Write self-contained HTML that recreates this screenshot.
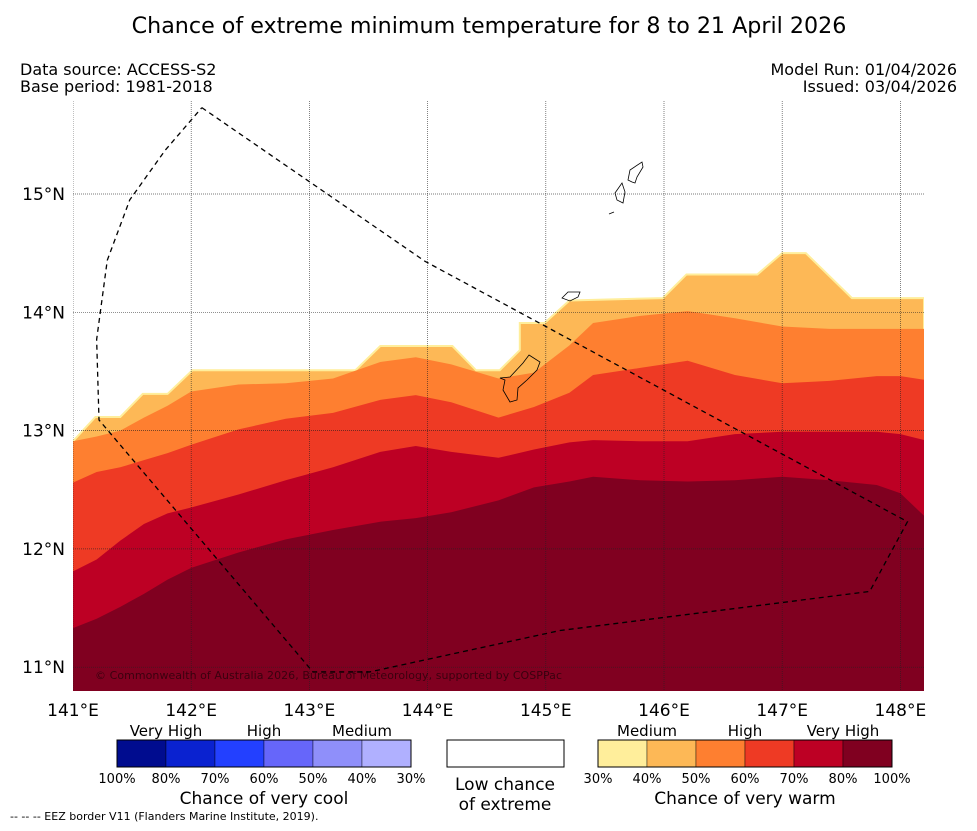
<!DOCTYPE html>
<html><head><meta charset="utf-8"><style>
html,body{margin:0;padding:0;background:#fff;}
body{width:977px;height:827px;overflow:hidden;font-family:"DejaVu Sans","Liberation Sans",sans-serif;}
svg text{font-family:"DejaVu Sans","Liberation Sans",sans-serif;}
</style></head><body>
<svg id="chart" width="977" height="827" viewBox="0 0 977 827" xmlns="http://www.w3.org/2000/svg">
<text x="489" y="33" font-size="22.2" text-anchor="middle" fill="#000">Chance of extreme minimum temperature for 8 to 21 April 2026</text>
<text x="20" y="75" font-size="16">Data source: ACCESS-S2</text>
<text x="20" y="92" font-size="16">Base period: 1981-2018</text>
<text x="957" y="75" font-size="16" text-anchor="end">Model Run: 01/04/2026</text>
<text x="957" y="92" font-size="16" text-anchor="end">Issued: 03/04/2026</text>
<defs><clipPath id="mapclip"><rect x="73" y="101" width="851" height="590"/></clipPath></defs>
<g id="map" clip-path="url(#mapclip)"></g>
<g id="axes"></g>
<g id="legend"></g>
<text x="10" y="820" font-size="11">--  --  -- EEZ border V11 (Flanders Marine Institute, 2019).</text>
</svg>
<script>
// ---- data ----
const gridLons=[141.0,141.2,141.4,141.6,141.8,142.0,142.4,142.8,143.2,143.6,143.9,144.2,144.6,144.9,145.2,145.4,145.8,146.2,146.6,147.0,147.4,147.8,148.0,148.2];
const topLons=[141.0,141.19,141.40,141.59,141.80,142.01,143.39,143.60,144.21,144.41,144.61,144.78,144.78,144.99,145.20,145.99,146.19,146.79,147.00,147.20,147.59,148.2];
const topLats=[12.91,13.115,13.115,13.31,13.31,13.51,13.51,13.715,13.715,13.51,13.51,13.68,13.91,13.91,14.10,14.12,14.32,14.32,14.50,14.50,14.12,14.12];
const lat50=[12.91,12.95,13.00,13.11,13.21,13.33,13.39,13.40,13.44,13.58,13.62,13.56,13.44,13.49,13.72,13.91,13.97,14.01,13.95,13.88,13.86,13.86,13.86,13.86];
const lat60=[12.56,12.65,12.69,12.75,12.81,12.88,13.01,13.10,13.15,13.26,13.30,13.24,13.11,13.20,13.32,13.47,13.53,13.59,13.47,13.40,13.42,13.46,13.46,13.43];
const lat70=[11.81,11.91,12.07,12.21,12.30,12.35,12.46,12.58,12.69,12.82,12.87,12.82,12.77,12.84,12.90,12.92,12.91,12.91,12.97,12.99,12.99,12.99,12.97,12.92];
const lat80=[11.33,11.41,11.51,11.62,11.74,11.84,11.97,12.08,12.16,12.23,12.26,12.31,12.41,12.52,12.57,12.61,12.58,12.57,12.58,12.61,12.58,12.54,12.47,12.28];
const eezLons=[142.09,143.98,148.06,147.74,145.12,143.51,143.03,141.22,141.20,141.29,141.48,141.78,142.09];
const eezLats=[15.73,14.43,12.23,11.64,11.31,10.96,10.96,13.09,13.77,14.44,14.95,15.37,15.73];
const lonTicks=[141,142,143,144,145,146,147,148];
const latTicks=[11,12,13,14,15];
const coolLabels=["100%","80%","70%","60%","50%","40%","30%"];
const warmLabels=["30%","40%","50%","60%","70%","80%","100%"];
const coolColors=["#000c8f","#0a22d0","#2340ff","#6666fa","#8f8ffa","#b0b0ff"];
const warmColors=["#ffee9b","#fdb856","#fe7f30","#ee3a24","#bd0024","#800020"];

const NS='http://www.w3.org/2000/svg';
const x=lon=>73+(lon-141)*118.2;
const y=lat=>194+(15-lat)*118.3;
const BOT=10.5;
function mk(tag,attrs,parent){const e=document.createElementNS(NS,tag);for(const k in attrs)e.setAttribute(k,attrs[k]);parent.appendChild(e);return e;}
const map=document.getElementById('map');
function band(lons,lats,color,name,stroke){
  let d='M'+x(lons[0])+','+y(BOT);
  for(let i=0;i<lons.length;i++)d+='L'+x(lons[i])+','+y(lats[i]);
  d+='L'+x(lons[lons.length-1])+','+y(BOT)+'Z';
  const p=mk('path',{d:d,fill:color},map);
  if(stroke){p.setAttribute('stroke',stroke);p.setAttribute('stroke-width','2');}
  
  
}
band(topLons,topLats,warmColors[1],'band-40-50',warmColors[0]);
band(gridLons,lat50,warmColors[2],'band-50-60');
band(gridLons,lat60,warmColors[3],'band-60-70');
band(gridLons,lat70,warmColors[4],'band-70-80');
band(gridLons,lat80,warmColors[5],'band-80-100');
// grid
lonTicks.forEach(l=>{const g=mk('line',{x1:x(l),x2:x(l),y1:101,y2:691,stroke:'#222','stroke-width':0.7,'stroke-dasharray':'1,1','stroke-opacity':0.8},map);
});
latTicks.forEach(l=>{const g=mk('line',{x1:73,x2:924,y1:y(l),y2:y(l),stroke:'#222','stroke-width':0.7,'stroke-dasharray':'1,1','stroke-opacity':0.8},map);
});
// islands
const islands=["M529,355L540,362L537,370L527,380L518,388L517,400L510,402L503,390L505,380L500,378L510,377L523,363Z",
"M562,298L568,292L580,292L578,297L570,301Z","M615,193L622,183L625,192L623,203L617,200Z",
"M628,180L630,170L642,162L643,167L637,177L635,183L632,182Z","M609,214L614,212"];
islands.forEach(d=>{const p=mk('path',{d:d,fill:'none',stroke:'#000','stroke-width':0.8},map);
});
// eez
let ed='';eezLons.forEach((l,i)=>{ed+=(i?'L':'M')+x(l)+','+y(eezLats[i]);});
const eez=mk('path',{d:ed,fill:'none',stroke:'#000','stroke-width':1.3,'stroke-dasharray':'5,4'},map);

const cp=mk('text',{x:95,y:679,'font-size':11,fill:'#000','fill-opacity':0.55,'letter-spacing':'0.05'},map);
cp.textContent='© Commonwealth of Australia 2026, Bureau of Meteorology, supported by COSPPac';

// axes labels
const axes=document.getElementById('axes');
lonTicks.forEach(l=>{const t=mk('text',{x:x(l),y:716,'font-size':17,'text-anchor':'middle'},axes);t.textContent=l+'°E';
});
latTicks.forEach(l=>{const t=mk('text',{x:65,y:y(l)+6,'font-size':17,'text-anchor':'end'},axes);t.textContent=l+'°N';
});
// legend
const lg=document.getElementById('legend');
function bar(x0,colors,labels,name){
  colors.forEach((c,i)=>{const r=mk('rect',{x:x0+i*49,y:740,width:49,height:27,fill:c,stroke:'#000','stroke-width':0.4},lg);
  });
  mk('rect',{x:x0,y:740,width:294,height:27,fill:'none',stroke:'#000','stroke-width':1},lg);
  labels.forEach((s,i)=>{const t=mk('text',{x:x0+i*49,y:783,'font-size':13,'text-anchor':'middle'},lg);t.textContent=s;
  });
}
bar(117,coolColors,coolLabels,'cool-colorbar');
bar(598,warmColors,warmLabels,'warm-colorbar');
function txt(s,xx,yy,fs,name){const t=mk('text',{x:xx,y:yy,'font-size':fs,'text-anchor':'middle'},lg);t.textContent=s;
}
txt('Very High',166,736,15,'cool-very-high');txt('High',264,736,15,'cool-high');txt('Medium',362,736,15,'cool-medium');
txt('Medium',647,736,15,'warm-medium');txt('High',745,736,15,'warm-high');txt('Very High',843,736,15,'warm-very-high');
txt('Chance of very cool',264,804,17,'cool-title');txt('Chance of very warm',745,804,17,'warm-title');
const wb=mk('rect',{x:447,y:740,width:117,height:27,fill:'#fff',stroke:'#000','stroke-width':1},lg);

txt('Low chance',505,790,17,'low-chance-label');txt('of extreme',505,810,17,'low-chance-label-2');
</script>
</body></html>
